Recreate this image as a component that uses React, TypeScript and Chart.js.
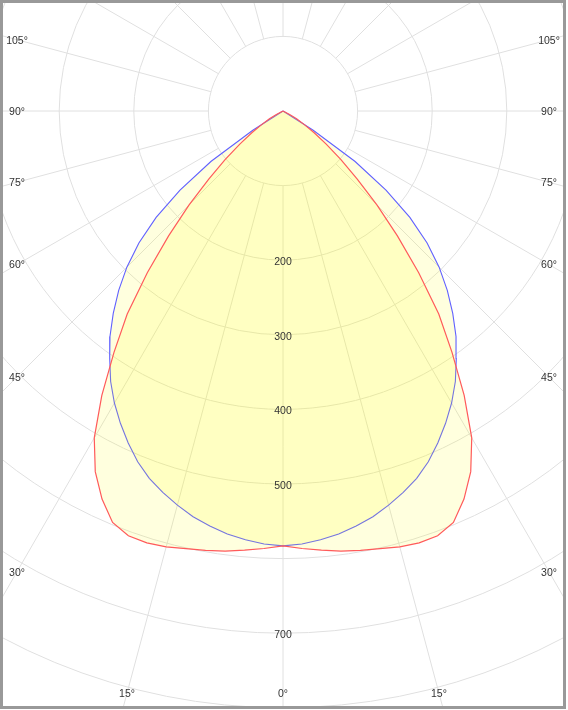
import React, { useEffect, useRef } from "react";
import { Chart, registerables } from "chart.js";

Chart.register(...registerables);

// Gamma angles (degrees from nadir) at which the intensities are read
const angles = [
  0, 2.5, 5, 7.5, 10, 12.5, 15, 17.5, 20, 22.5, 25, 27.5, 30, 32.5, 35, 37.5,
  40, 42.5, 45, 47.5, 50, 52.5, 55, 57.5, 60, 62.5, 65,
];

// C0/C180 plane (red)
const redValues = [
  583, 587, 591, 595, 598, 601, 605, 607, 606, 597, 574, 545, 506, 452, 395,
  343, 283, 227, 178, 135, 101, 73, 51, 34, 21, 10, 0,
];

// C90/C270 plane (blue)
const blueValues = [
  583, 581, 577, 572, 565, 557, 547, 536, 524, 509, 491, 472, 452, 430, 405,
  381, 354, 326, 296, 262, 222, 174, 118, 48, 0, 0, 0,
];

const ringValues = [100, 200, 300, 400, 500, 600, 700, 800, 900, 1000, 1100, 1200];
const ringLabels = [200, 300, 400, 500, 700];
const angleLabels = [0, 15, 30, 45, 60, 75, 90, 105];
const spokeStep = 15;

const PX_PER_UNIT = 0.746;
const W = 560;
const H = 703;
const CX = 280;
const CY = 108;

const rad = (d: number) => (d * Math.PI) / 180;

function toPoints(vals: number[]) {
  const left = angles
    .map((a, i) => ({ x: -vals[i] * Math.sin(rad(a)), y: -vals[i] * Math.cos(rad(a)) }))
    .reverse();
  const right = angles
    .slice(1)
    .map((a, i) => ({ x: vals[i + 1] * Math.sin(rad(a)), y: -vals[i + 1] * Math.cos(rad(a)) }));
  return [...left, ...right];
}

const FONT = '10.5px "Liberation Sans", Arial, sans-serif';

const polarPlugin = {
  id: "polarGrid",
  beforeDatasetsDraw(chart: any) {
    const { ctx, scales } = chart;
    const sx = scales.x;
    const sy = scales.y;
    const cx = sx.getPixelForValue(0);
    const cy = sy.getPixelForValue(0);
    const pr = (v: number) => sx.getPixelForValue(v) - cx;
    ctx.save();
    ctx.strokeStyle = "#e0e0e0";
    ctx.lineWidth = 1;
    ringValues.forEach((v) => {
      ctx.beginPath();
      ctx.arc(cx, cy, pr(v), 0, Math.PI * 2);
      ctx.stroke();
    });
    const r0 = pr(ringValues[0]);
    const r1 = pr(ringValues[ringValues.length - 1]);
    for (let a = 0; a < 360; a += spokeStep) {
      const dx = Math.sin(rad(a));
      const dy = Math.cos(rad(a));
      ctx.beginPath();
      ctx.moveTo(cx + dx * r0, cy + dy * r0);
      ctx.lineTo(cx + dx * r1, cy + dy * r1);
      ctx.stroke();
    }
    ctx.restore();
  },
  afterDatasetsDraw(chart: any) {
    const { ctx, scales, chartArea } = chart;
    const sx = scales.x;
    const sy = scales.y;
    const cx = sx.getPixelForValue(0);
    const cy = sy.getPixelForValue(0);
    const pr = (v: number) => sx.getPixelForValue(v) - cx;
    ctx.save();
    ctx.font = FONT;
    ctx.fillStyle = "#333";
    ctx.textAlign = "center";
    ctx.textBaseline = "middle";
    ringLabels.forEach((v) => {
      ctx.fillText(String(v), cx, cy + pr(v) + 2);
    });
    const half = Math.min(cx - chartArea.left, chartArea.right - cx) - 14;
    const bottom = chartArea.bottom - cy - 13;
    const top = chartArea.top + 12;
    angleLabels.forEach((a) => {
      const sides = a === 0 ? [1] : [-1, 1];
      sides.forEach((s) => {
        const dx = s * Math.sin(rad(a));
        const dy = Math.cos(rad(a));
        const tx = Math.abs(dx) > 1e-6 ? half / Math.abs(dx) : Infinity;
        const ty = dy > 1e-6 ? bottom / dy : Infinity;
        const t = Math.min(tx, ty);
        const px = cx + dx * t;
        const py = cy + dy * t;
        if (py < top) return;
        ctx.fillText(`${a}°`, px, py + 1);
      });
    });
    ctx.restore();
  },
};

export default function App() {
  const ref = useRef<HTMLCanvasElement>(null);
  useEffect(() => {
    document.body.style.margin = "0";
    if (!ref.current) return;
    const chart = new Chart(ref.current, {
      type: "scatter",
      data: {
        datasets: [
          {
            label: "C0-C180",
            data: toPoints(redValues),
            showLine: true,
            borderColor: "#ff5a5a",
            backgroundColor: "rgba(255,255,0,0.13)",
            borderWidth: 1.2,
            pointRadius: 0,
            fill: "shape",
            tension: 0,
          },
          {
            label: "C90-C270",
            data: toPoints(blueValues),
            showLine: true,
            borderColor: "#6060ff",
            backgroundColor: "rgba(255,255,0,0.13)",
            borderWidth: 1.1,
            pointRadius: 0,
            fill: "shape",
            tension: 0,
          },
        ],
      },
      options: {
        animation: false,
        responsive: false,
        maintainAspectRatio: false,
        layout: { padding: 0 },
        plugins: { legend: { display: false }, tooltip: { enabled: false } },
        scales: {
          x: {
            type: "linear",
            display: false,
            min: -CX / PX_PER_UNIT,
            max: (W - CX) / PX_PER_UNIT,
          },
          y: {
            type: "linear",
            display: false,
            min: -(H - CY) / PX_PER_UNIT,
            max: CY / PX_PER_UNIT,
          },
        },
      },
      plugins: [polarPlugin],
    });
    return () => chart.destroy();
  }, []);
  return (
    <div style={{ border: "3px solid #999", width: W, height: H, background: "#fff" }}>
      <canvas ref={ref} width={W} height={H} style={{ display: "block", width: W, height: H }} />
    </div>
  );
}
